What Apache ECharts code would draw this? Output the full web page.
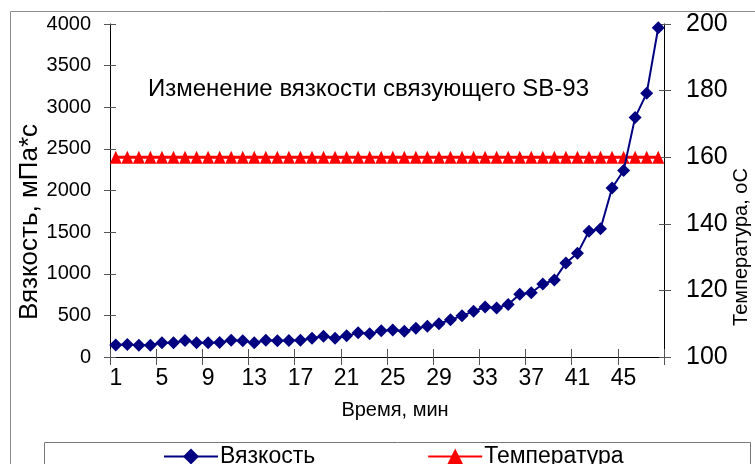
<!DOCTYPE html>
<html>
<head>
<meta charset="utf-8">
<script src="https://cdn.jsdelivr.net/npm/echarts@6/dist/echarts.min.js"></script>
<style>html,body{margin:0;padding:0;background:#fff;}#c{width:755px;height:464px;}</style>
</head>
<body>
<div id="c"></div>
<script>
const categories = ['1','2','3','4','5','6','7','8','9','10','11','12','13','14','15','16','17','18','19','20','21','22','23','24','25','26','27','28','29','30','31','32','33','34','35','36','37','38','39','40','41','42','43','44','45','46','47','48'];
const viscosity = [145,150,140,140,172,172,198,172,172,174,200,194,172,200,194,198,200,226,248,226,254,290,280,314,324,310,344,368,400,448,494,550,600,590,630,755,772,877,925,1130,1245,1510,1540,2030,2240,2878,3167,3955];
const temperature = [160,160,160,160,160,160,160,160,160,160,160,160,160,160,160,160,160,160,160,160,160,160,160,160,160,160,160,160,160,160,160,160,160,160,160,160,160,160,160,160,160,160,160,160,160,160,160,160];
const titleText = 'Изменение вязкости связующего SB-93';
const leftName = 'Вязкость, мПа*с';
const rightName = 'Температура, оС';
const xName = 'Время, мин';
const seriesNames = ['Вязкость', 'Температура'];

const FF = '"Liberation Sans", Arial, sans-serif';
const chart = echarts.init(document.getElementById('c'));
const tickStyle = {color: '#555', width: 1};
chart.setOption({
  animation: false,
  backgroundColor: '#fff',
  textStyle: {fontFamily: FF, color: '#000'},
  title: {text: titleText, left: 143, top: 72, textStyle: {fontFamily: FF, fontSize: 24, fontWeight: 'normal', color: '#000'}},
  grid: {left: 110, right: 91, top: 24, bottom: 107, containLabel: false},
  legend: {
    data: seriesNames,
    left: 158, top: 440, itemGap: 112, itemWidth: 54, itemHeight: 20,
    textStyle: {fontFamily: FF, fontSize: 23, color: '#000', padding: [0,0,0,-3]}
  },
  xAxis: [
    {type: 'category', data: categories, position: 'bottom', boundaryGap: true,
     axisLine: {lineStyle: {color: '#000', width: 1}},
     axisTick: {show: true, interval: 3, length: 8, lineStyle: tickStyle},
     axisLabel: {interval: 3, fontSize: 23, color: '#000', margin: 10, fontFamily: FF}},
    {type: 'category', data: categories, position: 'bottom', boundaryGap: true,
     axisLine: {show: false},
     axisTick: {show: true, inside: true, interval: 3, length: 8, lineStyle: tickStyle},
     axisLabel: {show: false}}
  ],
  yAxis: [
    {type: 'value', position: 'left', min: 0, max: 4000, interval: 500,
     axisLine: {show: true, lineStyle: {color: '#000'}},
     axisTick: {show: true, length: 6, lineStyle: tickStyle},
     splitLine: {show: false},
     axisLabel: {fontSize: 20, color: '#000', margin: 19, fontFamily: FF, formatter: v => String(v)}},
    {type: 'value', position: 'right', min: 100, max: 200, interval: 20,
     axisLine: {show: true, lineStyle: {color: '#000'}},
     axisTick: {show: true, length: 7, lineStyle: tickStyle},
     splitLine: {show: false},
     axisLabel: {fontSize: 25, color: '#000', margin: 22, fontFamily: FF, formatter: v => String(v)}},
    {type: 'value', position: 'left', min: 0, max: 4000, interval: 500,
     axisLine: {show: false}, splitLine: {show: false}, axisLabel: {show: false},
     axisTick: {show: true, inside: true, length: 6, lineStyle: tickStyle}},
    {type: 'value', position: 'right', min: 100, max: 200, interval: 20,
     axisLine: {show: false}, splitLine: {show: false}, axisLabel: {show: false},
     axisTick: {show: true, inside: true, length: 5, lineStyle: tickStyle}}
  ],
  series: [
    {name: seriesNames[0], type: 'line', data: viscosity, yAxisIndex: 0,
     symbol: 'diamond', symbolSize: 13, showAllSymbol: true,
     lineStyle: {color: '#000080', width: 2}, itemStyle: {color: '#000080'}, z: 3},
    {name: seriesNames[1], type: 'line', data: temperature, yAxisIndex: 1,
     symbol: 'triangle', symbolSize: [12, 13], showAllSymbol: true,
     lineStyle: {color: '#ff0000', width: 3}, itemStyle: {color: '#ff0000'}, z: 2}
  ],
  graphic: [
    {type: 'rect', left: 8, top: 9, shape: {width: 800, height: 500}, style: {fill: 'none', stroke: '#8c8c8c', lineWidth: 1}, silent: true, z: -1},
    {type: 'rect', left: 42, top: 440, shape: {width: 706, height: 40}, style: {fill: 'none', stroke: '#777', lineWidth: 1}, silent: true},
    {type: 'text', x: 30, y: 222, rotation: Math.PI/2, style: {text: leftName, font: '26px ' + FF, fill: '#000', textAlign: 'center', textVerticalAlign: 'middle'}},
    {type: 'text', x: 741, y: 247, rotation: Math.PI/2, style: {text: rightName, font: '20px ' + FF, fill: '#000', textAlign: 'center', textVerticalAlign: 'middle'}},
    {type: 'text', x: 395, y: 410, style: {text: xName, font: '20px ' + FF, fill: '#000', textAlign: 'center', textVerticalAlign: 'middle'}}
  ]
});
</script>
</body>
</html>
